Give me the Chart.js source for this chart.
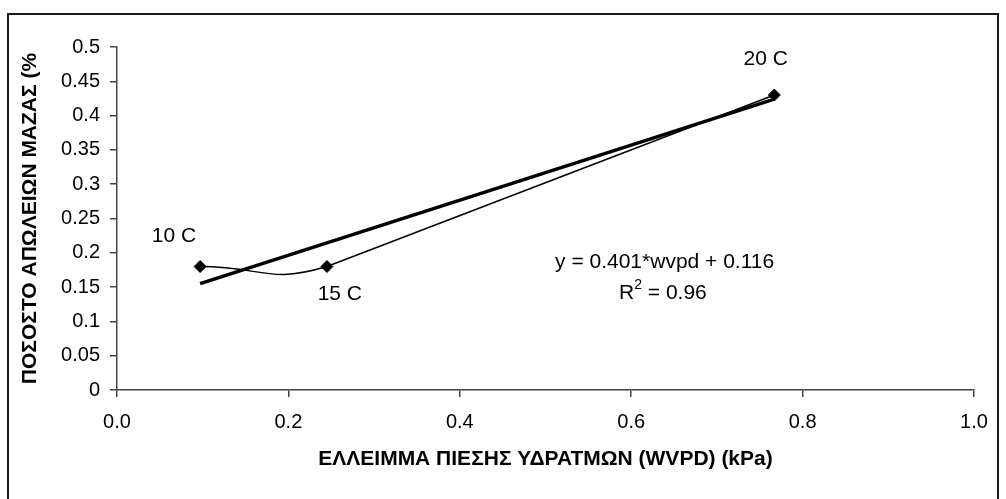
<!DOCTYPE html>
<html>
<head>
<meta charset="utf-8">
<script src="https://cdn.jsdelivr.net/npm/chart.js@4.4.1/dist/chart.umd.min.js"></script>
<style>
  html, body { margin: 0; padding: 0; background: #fff; }
  #wrap { position: relative; width: 1006px; height: 499px; }
</style>
</head>
<body>
<div id="wrap"><canvas id="wvpd-chart"></canvas></div>
<script>
// measured points (temperature runs)
const pointLabels = ["10 C", "15 C", "20 C"];
const wvpdValues = [0.097, 0.245, 0.767];
const massLossValues = [0.18, 0.18, 0.43];

// linear trendline, read at its two ends
const trendX = [0.097, 0.767];
const trendY = [0.155, 0.424];

const equationText = "y = 0.401*wvpd + 0.116";
const r2Value = "0.96";

const xTitle = "ΕΛΛΕΙΜΜΑ ΠΙΕΣΗΣ ΥΔΡΑΤΜΩΝ (WVPD) (kPa)";
const yTitle = "ΠΟΣΟΣΤΟ ΑΠΩΛΕΙΩΝ ΜΑΖΑΣ (%";

const FONT = "'Liberation Sans', Arial, sans-serif";

// where the texts sit, in data units
const labelSpots = [
  { x: 0.0665, y: 0.2245 },
  { x: 0.260, y: 0.140 },
  { x: 0.757, y: 0.4825 },
];
const equationSpot = { x: 0.639, y: 0.1866 };
const r2Spot = { x: 0.637, y: 0.141 };

const frameAndText = {
  id: "frameAndText",
  beforeDraw(chart) {
    const ctx = chart.ctx;
    ctx.save();
    ctx.strokeStyle = "#1a1a1a";
    ctx.lineWidth = 2;
    ctx.strokeRect(8, 14, 990, 520);
    ctx.restore();
  },
  afterDraw(chart) {
    const ctx = chart.ctx;
    const xs = chart.scales.x;
    const ys = chart.scales.y;
    ctx.save();
    ctx.fillStyle = "#000";
    ctx.font = "21px " + FONT;
    ctx.textAlign = "center";
    ctx.textBaseline = "middle";
    pointLabels.forEach((t, i) => {
      ctx.fillText(t, xs.getPixelForValue(labelSpots[i].x), ys.getPixelForValue(labelSpots[i].y));
    });
    ctx.fillText(equationText, xs.getPixelForValue(equationSpot.x), ys.getPixelForValue(equationSpot.y));

    // R² line with a raised 2
    const cx = xs.getPixelForValue(r2Spot.x);
    const cy = ys.getPixelForValue(r2Spot.y);
    ctx.textAlign = "left";
    const wR = ctx.measureText("R").width;
    const wRest = ctx.measureText(" = " + r2Value).width;
    ctx.font = "14px " + FONT;
    const w2 = ctx.measureText("2").width;
    const x0 = cx - (wR + w2 + wRest) / 2;
    ctx.font = "21px " + FONT;
    ctx.fillText("R", x0, cy);
    ctx.font = "14px " + FONT;
    ctx.fillText("2", x0 + wR, cy - 8);
    ctx.font = "21px " + FONT;
    ctx.fillText(" = " + r2Value, x0 + wR + w2, cy);
    ctx.restore();
  },
};

const ctx = document.getElementById("wvpd-chart");

new Chart(ctx, {
  type: "scatter",
  data: {
    datasets: [
      {
        // smoothed curve: only the first stretch is drawn from here
        label: "Mass loss",
        data: wvpdValues.map((x, i) => ({ x: x, y: massLossValues[i] })),
        showLine: true,
        tension: 0.5,
        borderColor: "#000",
        borderWidth: 1.5,
        segment: {
          borderColor: (c) => (c.p0DataIndex === 1 ? "rgba(0,0,0,0)" : "#000"),
        },
        pointStyle: "rectRot",
        pointRadius: 6,
        pointBackgroundColor: "#000",
        pointBorderColor: "#000",
        pointBorderWidth: 1,
        order: 1,
      },
      {
        label: "Mass loss (upper)",
        data: wvpdValues.slice(1).map((x, i) => ({ x: x, y: massLossValues[i + 1] })),
        showLine: true,
        tension: 0,
        borderColor: "#000",
        borderWidth: 1.5,
        pointRadius: 0,
        order: 2,
      },
      {
        label: "Trend",
        data: trendX.map((x, i) => ({ x: x, y: trendY[i] })),
        showLine: true,
        borderColor: "#000",
        borderWidth: 3.5,
        pointRadius: 0,
        order: 3,
      },
    ],
  },
  options: {
    responsive: true,
    maintainAspectRatio: false,
    animation: false,
    layout: { padding: { left: 0, top: 47, right: 32, bottom: 0 } },
    plugins: {
      legend: { display: false },
      tooltip: { enabled: false },
    },
    scales: {
      x: {
        type: "linear",
        min: 0,
        max: 1,
        afterFit: (scale) => { scale.height = 109; },
        ticks: {
          stepSize: 0.2,
          padding: 13,
          color: "#000",
          font: { family: FONT, size: 20 },
          callback: (v) => v.toFixed(1),
        },
        grid: { drawOnChartArea: false, drawTicks: true, tickLength: 7, color: "#444", lineWidth: 1.5 },
        border: { display: true, color: "#444", width: 1.5 },
        title: {
          display: true,
          text: xTitle,
          color: "#000",
          font: { family: FONT, size: 21, weight: "bold" },
          padding: { top: 27, bottom: 27 },
        },
      },
      y: {
        min: 0,
        max: 0.5,
        afterFit: (scale) => { scale.width = 117; },
        ticks: {
          stepSize: 0.05,
          padding: 10,
          color: "#000",
          font: { family: FONT, size: 20 },
          callback: (v) => String(+v.toFixed(2)),
        },
        grid: { drawOnChartArea: false, drawTicks: true, tickLength: 7, color: "#444", lineWidth: 1.5 },
        border: { display: true, color: "#444", width: 1.5 },
        title: {
          display: true,
          text: yTitle,
          color: "#000",
          font: { family: FONT, size: 21, weight: "bold" },
          padding: { top: 18, bottom: 18 },
        },
      },
    },
  },
  plugins: [frameAndText],
});
</script>
</body>
</html>
